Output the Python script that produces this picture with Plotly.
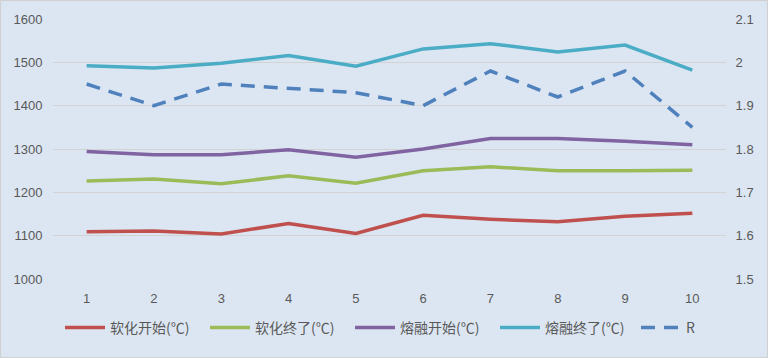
import plotly.graph_objects as go

categories = [1, 2, 3, 4, 5, 6, 7, 8, 9, 10]
soft_start = [1109, 1111, 1104, 1128, 1105, 1147, 1138, 1132, 1145, 1152]
soft_end = [1226, 1231, 1220, 1238, 1221, 1250, 1259, 1250, 1250, 1251]
melt_start = [1294, 1287, 1287, 1298, 1281, 1300, 1324, 1324, 1318, 1310]
melt_end = [1492, 1487, 1498, 1516, 1491, 1531, 1543, 1524, 1540, 1482]
r_vals = [1.95, 1.90, 1.95, 1.94, 1.93, 1.90, 1.98, 1.92, 1.98, 1.85]

names = ["软化开始(℃)", "软化终了(℃)", "熔融开始(℃)", "熔融终了(℃)", "R"]
left_ticks = [1000, 1100, 1200, 1300, 1400, 1500, 1600]
right_ticks = [1.5, 1.6, 1.7, 1.8, 1.9, 2.0, 2.1]
right_labels = ["1.5", "1.6", "1.7", "1.8", "1.9", "2", "2.1"]

W, H = 768, 358
ml, mr, mt, mb = 53, 42, 19, 79
pw, ph = W - ml - mr, H - mt - mb

bg = "#DCE6F2"
grid = "#D3D3D3"
txt = "#595959"

fig = go.Figure()
series = [
    (soft_start, "#C0504D"),
    (soft_end, "#9BBB59"),
    (melt_start, "#8064A2"),
    (melt_end, "#4BACC6"),
]
for (vals, col), nm in zip(series, names[:4]):
    fig.add_trace(go.Scatter(x=categories, y=vals, name=nm, mode="lines",
                             line=dict(color=col, width=3.5)))
fig.add_trace(go.Scatter(x=categories, y=r_vals, name=names[4], mode="lines",
                         yaxis="y2", legend="legend2",
                         line=dict(color="#4F81BD", width=3.5, dash="14px,9px")))

leg_y = -(328 - (H - mb)) / ph
legfont = dict(family="Noto Sans CJK SC", size=14, color=txt)

fig.update_layout(
    width=W, height=H,
    margin=dict(l=ml, r=mr, t=mt, b=mb, autoexpand=False),
    paper_bgcolor=bg, plot_bgcolor=bg,
    font=dict(family="Liberation Sans, Noto Sans CJK SC", size=13, color=txt),
    xaxis=dict(range=[0.5, 10.5], tickvals=categories, ticktext=[str(c) for c in categories],
               showgrid=False, zeroline=False, showline=False, automargin=False,
               ticks="outside", ticklen=7, tickcolor="rgba(0,0,0,0)"),
    yaxis=dict(range=[1000, 1600], tickvals=left_ticks, showgrid=True, gridcolor=grid,
               gridwidth=1, zeroline=False, showline=False, automargin=False,
               ticks="outside", ticklen=7, tickcolor="rgba(0,0,0,0)"),
    yaxis2=dict(range=[1.5, 2.1], tickvals=right_ticks, ticktext=right_labels,
                overlaying="y", side="right", showgrid=False, zeroline=False, automargin=False,
                ticks="outside", ticklen=6, tickcolor="rgba(0,0,0,0)"),
    legend=dict(orientation="h", x=(60 - ml) / pw, xanchor="left",
                y=leg_y, yanchor="middle", entrywidth=90, entrywidthmode="pixels",
                font=legfont, bgcolor="rgba(0,0,0,0)", itemwidth=40),
    legend2=dict(orientation="h", x=(636 - ml) / pw, xanchor="left",
                 y=leg_y, yanchor="middle",
                 font=legfont, bgcolor="rgba(0,0,0,0)", itemwidth=40),
    showlegend=True,
    shapes=[dict(type="rect", xref="paper", yref="paper",
                 x0=(0.5 - ml) / pw, x1=(W - 0.5 - ml) / pw,
                 y0=-(mb - 0.5) / ph, y1=(ph + mt - 0.5) / ph,
                 line=dict(color="#D0D0D0", width=1), fillcolor="rgba(0,0,0,0)", layer="below")],
)

fig.write_html("out.html", config={"displayModeBar": False},
               post_script="document.body.style.margin='0';document.body.style.padding='0';")
